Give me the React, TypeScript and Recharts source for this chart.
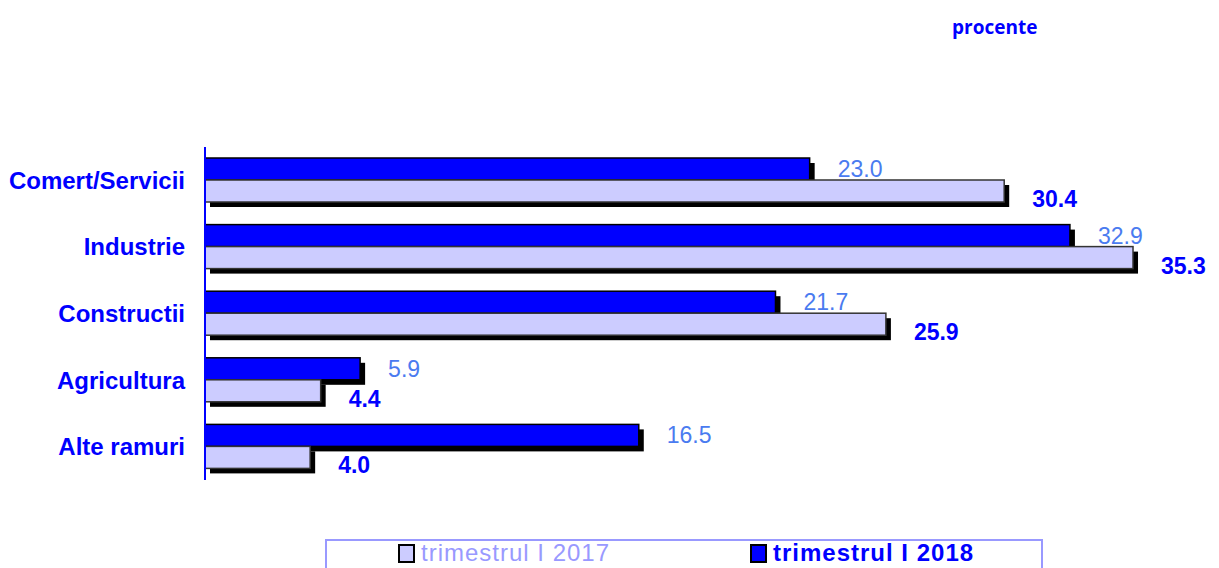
import React from 'react'
import { BarChart, Bar, XAxis, YAxis, LabelList } from 'recharts'

const categories = ['Comert/Servicii', 'Industrie', 'Constructii', 'Agricultura', 'Alte ramuri']
const values2017 = [30.4, 35.3, 25.9, 4.4, 4.0]
const values2018 = [23.0, 32.9, 21.7, 5.9, 16.5]
const seriesNames = ['trimestrul I 2017', 'trimestrul I 2018']

const data = categories.map((name, i) => ({ name, v2017: values2017[i], v2018: values2018[i] }))

const FONT = '"Liberation Sans", Arial, sans-serif'
const DARK = '#0000FF'
const LIGHT = '#CCCCFF'
const LABEL_LIGHT = '#4A7BF0'

// bar with a black drop shadow, like the old Excel 3D-ish look
const shadowBar = (stroke: string) => (props: any) => {
  const { x, y, width, height, fill } = props
  return (
    <g>
      <rect x={x + 5} y={y + 5} width={width} height={height} fill="#000" />
      <rect x={x} y={y} width={width} height={height} fill={fill} stroke={stroke} strokeWidth={1.5} />
    </g>
  )
}

const valueLabel = (color: string, bold: boolean, dx: number, dy: number) => (props: any) => {
  const { x, y, width, height, value } = props
  return (
    <text
      x={x + width + dx}
      y={y + height / 2 + dy}
      fill={color}
      fontSize={23}
      fontWeight={bold ? 'bold' : 'normal'}
      fontFamily={FONT}
      textAnchor="start"
      dominantBaseline="central"
    >
      {Number(value).toFixed(1)}
    </text>
  )
}

export default function App() {
  return (
    <div style={{ position: 'absolute', left: 0, top: 0, width: 1219, height: 568, background: '#fff', overflow: 'hidden' }}>
      <div
        style={{
          position: 'absolute', left: 952, top: 15, fontFamily: '"Open Sans", sans-serif',
          fontWeight: 700, fontSize: 19, color: DARK, lineHeight: '24px',
        }}
      >
        procente
      </div>
      <BarChart
        layout="vertical"
        width={1219}
        height={568}
        data={data}
        margin={{ top: 147, right: 15, bottom: 88, left: 0 }}
        barSize={22}
        barGap={0}
      >
        <XAxis type="number" domain={[0, 38]} hide />
        <YAxis
          type="category"
          dataKey="name"
          width={205}
          axisLine={{ stroke: DARK, strokeWidth: 2 }}
          tickLine={false}
          tickMargin={14}
          tick={{ fill: DARK, fontSize: 24, fontWeight: 'bold', fontFamily: FONT }}
        />
        <Bar dataKey="v2018" fill={DARK} shape={shadowBar('#000')} isAnimationActive={false}>
          <LabelList dataKey="v2018" content={valueLabel(LABEL_LIGHT, false, 28, 0)} />
        </Bar>
        <Bar dataKey="v2017" fill={LIGHT} shape={shadowBar('#333')} isAnimationActive={false}>
          <LabelList dataKey="v2017" content={valueLabel(DARK, true, 28, 8)} />
        </Bar>
      </BarChart>
      <div
        style={{
          position: 'absolute', left: 325, top: 539, width: 718, height: 40,
          border: '2px solid #9999FF', boxSizing: 'border-box',
        }}
      >
        <div style={{ position: 'absolute', left: 71, top: 1, display: 'flex', alignItems: 'center' }}>
          <span style={{ width: 13, height: 15, background: LIGHT, border: '2px solid #000', display: 'inline-block', marginRight: 6 }} />
          <span style={{ fontFamily: FONT, fontSize: 24, letterSpacing: 1, color: '#9999FF', lineHeight: '22px' }}>{seriesNames[0]}</span>
        </div>
        <div style={{ position: 'absolute', left: 423, top: 1, display: 'flex', alignItems: 'center' }}>
          <span style={{ width: 13, height: 15, background: DARK, border: '2px solid #000', display: 'inline-block', marginRight: 6 }} />
          <span style={{ fontFamily: FONT, fontSize: 24, letterSpacing: 1, fontWeight: 'bold', color: DARK, lineHeight: '22px' }}>{seriesNames[1]}</span>
        </div>
      </div>
    </div>
  )
}
